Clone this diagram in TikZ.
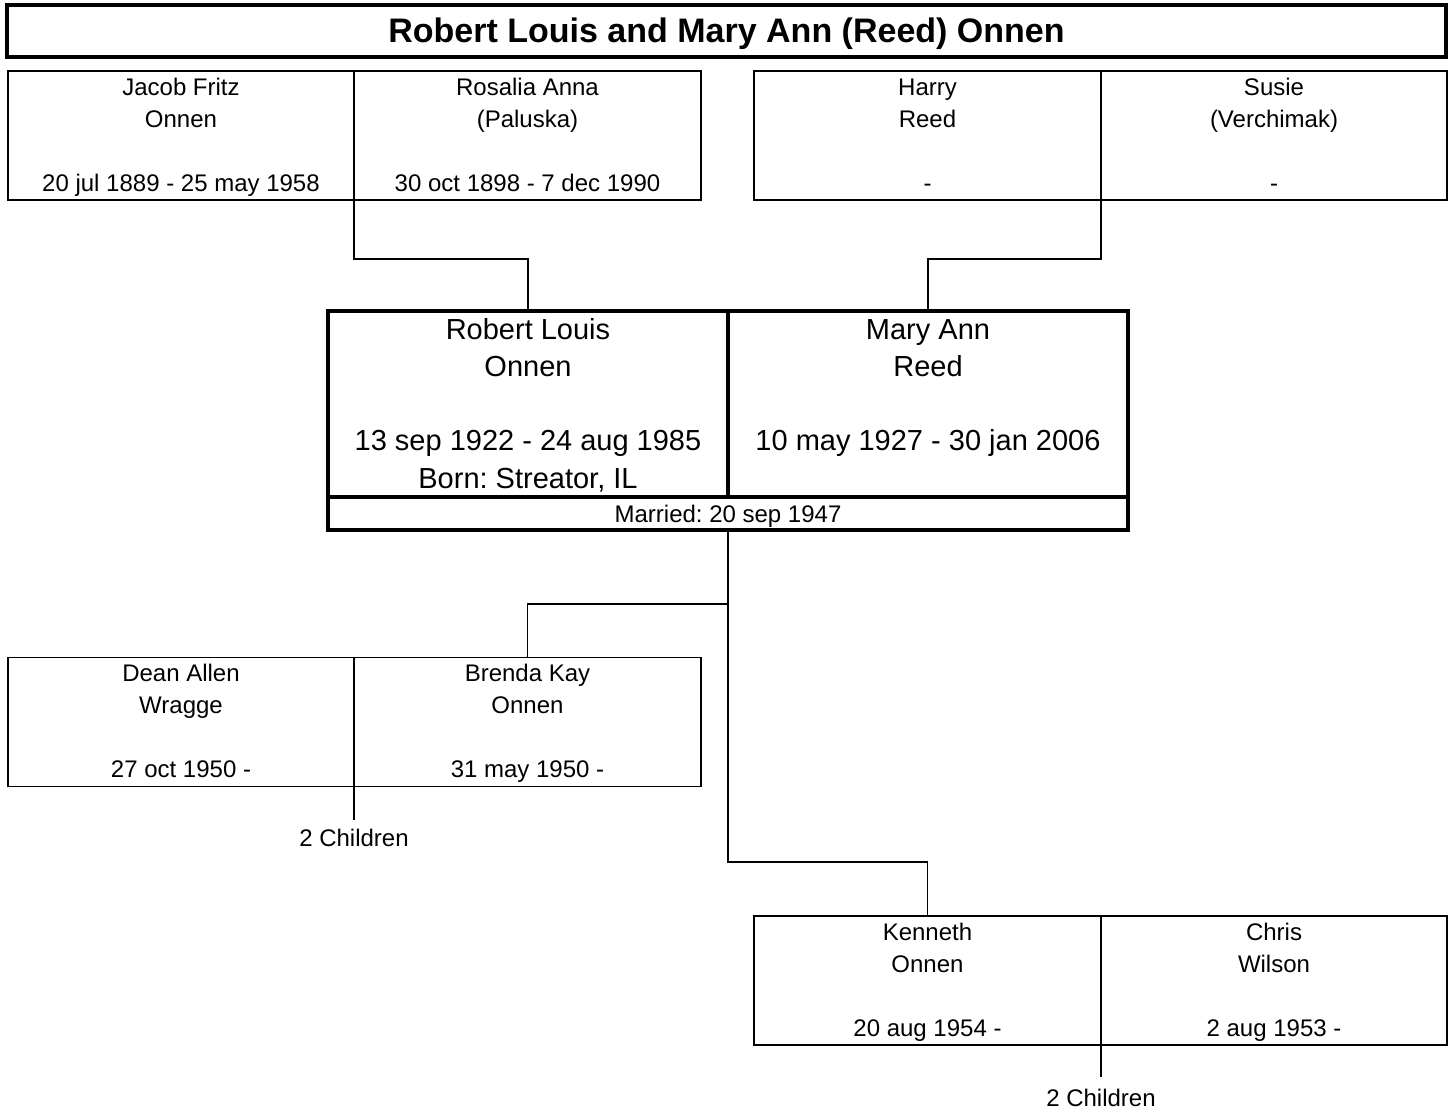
\documentclass[tikz,border=0pt]{standalone}
\usepackage{fontspec}
\setmainfont{Liberation Sans}
\frenchspacing
\newcommand{\topst}{\rule{0pt}{22pt}}
\newcommand{\botst}{\rule[-7pt]{0pt}{7pt}}
\newcommand{\btopst}{\rule{0pt}{27pt}}
\newcommand{\bbotst}{\rule[-7.8pt]{0pt}{7.8pt}}
\begin{document}
\begin{tikzpicture}[x=1pt,y=-1pt,
  person/.style={draw, line width=1.6pt, rectangle, inner sep=0pt, outer sep=0pt,
    minimum width=347pt, minimum height=129pt, align=center,
    font=\fontsize{24}{32}\selectfont},
  bigperson/.style={draw, line width=3.2pt, rectangle, inner sep=0pt, outer sep=0pt,
    minimum width=400pt, minimum height=186pt, align=center,
    font=\fontsize{29}{37.3}\selectfont},
  bar/.style={draw, line width=3.2pt, rectangle, inner sep=0pt, outer sep=0pt,
    minimum width=800pt, minimum height=33pt, text height=17pt, text depth=0pt,
    font=\fontsize{24}{28}\selectfont},
  titlebox/.style={draw, line width=3.2pt, rectangle, inner sep=0pt, outer sep=0pt,
    minimum width=1439pt, minimum height=52pt, text height=23pt, text depth=1pt,
    font=\fontsize{34}{40}\selectfont\bfseries},
  conn/.style={line width=1.6pt},
  kids/.style={inner sep=0pt, outer sep=0pt, text height=17pt, text depth=0pt,
    font=\fontsize{24}{28}\selectfont}]
\useasboundingbox (0,0) rectangle (1451,1112);

\node[titlebox] (title) at (726.5,31) {Robert Louis and Mary Ann (Reed) Onnen};

\node[person, minimum width=346pt] (jacob) at (181,135.5) {\topst Jacob Fritz\\Onnen\\~\\20 jul 1889 - 25 may 1958\botst};
\node[person] (rosalia) at (527.5,135.5) {\topst Rosalia Anna\\(Paluska)\\~\\30 oct 1898 - 7 dec 1990\botst};
\node[person] (harry) at (927.5,135.5) {\topst Harry\\Reed\\~\\-\botst};
\node[person, minimum width=346pt] (susie) at (1274,135.5) {\topst Susie\\(Verchimak)\\~\\-\botst};

\node[bigperson] (robert) at (528,404) {\btopst Robert Louis\\Onnen\\~\\13 sep 1922 - 24 aug 1985\\Born: Streator, IL\bbotst};
\node[bigperson] (mary) at (928,404) {\btopst Mary Ann\\Reed\\~\\10 may 1927 - 30 jan 2006\\~\bbotst};
\node[bar] (married) at (728,513.5) {Married: 20 sep 1947};

\node[person, minimum width=346pt] (dean) at (181,722) {\topst Dean Allen\\Wragge\\~\\27 oct 1950 -\botst};
\node[person] (brenda) at (527.5,722) {\topst Brenda Kay\\Onnen\\~\\31 may 1950 -\botst};
\node[person] (kenneth) at (927.5,980.5) {\topst Kenneth\\Onnen\\~\\20 aug 1954 -\botst};
\node[person, minimum width=346pt] (chris) at (1274,980.5) {\topst Chris\\Wilson\\~\\2 aug 1953 -\botst};

% parents to couple
\draw[conn] (jacob.south east) -- ++(0,59) -| (robert.north);
\draw[conn] (harry.south east) -- ++(0,59) -| (mary.north);

% couple to children
\draw[conn] (married.south) -- ++(0,74) -| (brenda.north);
\draw[conn] (married.south) -- ++(0,332) -| (kenneth.north);

% grandchildren
\coordinate (k1) at (354,820);
\draw[conn] (dean.south east) -- (k1);
\node[kids] (kids1) at (354,838) {2 Children};
\coordinate (k2) at (1101,1077);
\draw[conn] (kenneth.south east) -- (k2);
\node[kids] (kids2) at (1101,1097.5) {2 Children};
\end{tikzpicture}
\end{document}
